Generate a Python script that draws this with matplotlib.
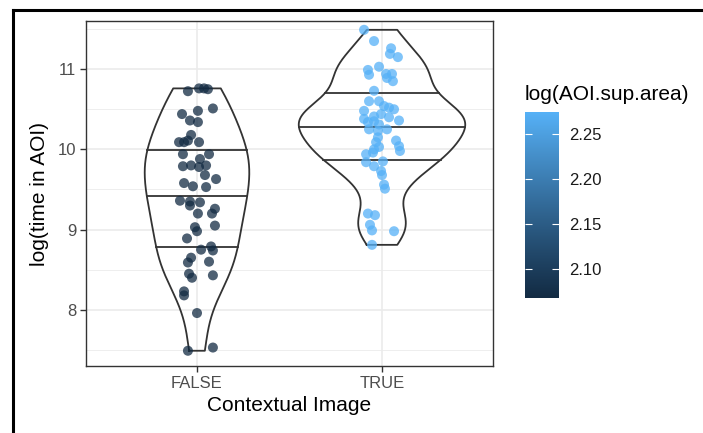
import numpy as np
import matplotlib
matplotlib.use("Agg")
import matplotlib.pyplot as plt
from matplotlib.colors import LinearSegmentedColormap
from matplotlib.lines import Line2D

# ---------------- data ----------------
categories = ["FALSE", "TRUE"]

false_time = [10.725, 10.76, 10.76, 10.75, 10.51, 10.44, 10.36, 10.48, 10.34, 10.09,
              10.09, 10.11, 10.18, 10.09, 9.94, 9.94, 9.88, 9.79, 9.80, 9.78,
              9.80, 9.68, 9.63, 9.58, 9.54, 9.53, 9.36, 9.35, 9.30, 9.34,
              9.20, 9.26, 9.20, 9.05, 9.03, 8.98, 8.89, 8.75, 8.79, 8.74,
              8.65, 8.60, 8.59, 8.45, 8.40, 8.43, 8.23, 8.18, 7.96, 7.49, 7.53]
false_jitter = [-0.049, 0.011, 0.038, 0.059, 0.086, -0.081, -0.038, 0.005, 0.005, -0.097,
                -0.070, -0.049, -0.032, 0.011, -0.076, 0.065, 0.016, -0.076, -0.032, 0.011,
                0.049, 0.043, 0.103, -0.070, -0.022, 0.049, -0.092, -0.038, -0.038, 0.016,
                0.005, 0.097, 0.081, 0.097, -0.011, 0.0, -0.054, 0.022, 0.076, 0.086,
                -0.032, 0.065, -0.049, -0.043, -0.027, 0.086, -0.070, -0.070, 0.0, -0.049, 0.086]

true_time = [11.49, 11.35, 11.26, 11.19, 11.15, 11.03, 10.99, 10.93, 10.94, 10.89,
             10.94, 10.85, 10.73, 10.60, 10.60, 10.54, 10.52, 10.50, 10.48, 10.38,
             10.41, 10.44, 10.40, 10.36, 10.34, 10.35, 10.31, 10.25, 10.23, 10.25,
             10.15, 10.09, 10.11, 10.04, 9.98, 10.03, 10.00, 9.94, 9.96, 9.84,
             9.79, 9.85, 9.73, 9.68, 9.56, 9.51, 9.20, 9.18, 9.06, 8.99, 8.98, 8.81]
true_jitter = [-0.097, -0.043, 0.049, 0.043, 0.086, -0.016, -0.076, -0.070, 0.022, 0.027,
               0.054, 0.059, -0.043, -0.070, -0.016, 0.011, 0.038, 0.065, -0.097, -0.097,
               -0.043, -0.005, 0.038, 0.092, -0.076, -0.043, -0.016, -0.070, -0.022, 0.027,
               -0.022, -0.032, 0.076, 0.092, 0.097, -0.016, -0.043, -0.086, -0.049, -0.086,
               -0.043, 0.005, -0.005, 0.0, 0.011, 0.016, -0.076, -0.038, -0.065, -0.054, 0.065, -0.054]

# colour variable log(AOI.sup.area): one value per group
area_values = [2.0676, 2.2746]
colorbar_ticks = [2.10, 2.15, 2.20, 2.25]
y_ticks = [8, 9, 10, 11]
quantile_levels = [0.25, 0.5, 0.75]

# ---------------- helpers ----------------
def _srgb_to_lab(hexcol):
    c = np.array([int(hexcol[i:i + 2], 16) / 255 for i in (1, 3, 5)])
    lin = np.where(c <= 0.04045, c / 12.92, ((c + 0.055) / 1.055) ** 2.4)
    M = np.array([[0.4124, 0.3576, 0.1805], [0.2126, 0.7152, 0.0722], [0.0193, 0.1192, 0.9505]])
    xyz = M @ lin / np.array([0.95047, 1.0, 1.08883])
    f = np.where(xyz > 0.008856, np.cbrt(xyz), 7.787 * xyz + 16 / 116)
    return np.array([116 * f[1] - 16, 500 * (f[0] - f[1]), 200 * (f[1] - f[2])])


def _lab_to_srgb(lab):
    L, a, b = lab
    fy = (L + 16) / 116
    fx = fy + a / 500
    fz = fy - b / 200
    f = np.array([fx, fy, fz])
    xyz = np.where(f ** 3 > 0.008856, f ** 3, (f - 16 / 116) / 7.787) * np.array([0.95047, 1.0, 1.08883])
    Minv = np.linalg.inv(np.array([[0.4124, 0.3576, 0.1805], [0.2126, 0.7152, 0.0722], [0.0193, 0.1192, 0.9505]]))
    lin = np.clip(Minv @ xyz, 0, 1)
    return np.where(lin <= 0.0031308, 12.92 * lin, 1.055 * lin ** (1 / 2.4) - 0.055)


lab_lo, lab_hi = _srgb_to_lab("#132B43"), _srgb_to_lab("#56B1F7")
cmap = LinearSegmentedColormap.from_list(
    "gg", [np.clip(_lab_to_srgb(lab_lo + t * (lab_hi - lab_lo)), 0, 1) for t in np.linspace(0, 1, 32)])


def nrd0(x):
    x = np.asarray(x)
    hi = np.std(x, ddof=1)
    iqr = np.subtract(*np.percentile(x, [75, 25]))
    lo = min(hi, iqr / 1.34)
    return 0.9 * lo * len(x) ** -0.2


def kde(x, n=512):
    x = np.asarray(x)
    bw = nrd0(x)
    ys = np.linspace(x.min(), x.max(), n)
    d = np.exp(-0.5 * ((ys[:, None] - x[None, :]) / bw) ** 2).sum(1) / (len(x) * bw * np.sqrt(2 * np.pi))
    return ys, d


# ---------------- figure ----------------
plt.rcParams["font.family"] = ["Liberation Sans", "DejaVu Sans"]
W, H = 703, 433
fig = plt.figure(figsize=(W / 100, H / 100), dpi=100)

L, R, T, B = 86, 493, 21, 366
ax = fig.add_axes([L / W, 1 - B / H, (R - L) / W, (B - T) / H])
ax.set_xlim(-0.6, 1.6)
ax.set_ylim(7.30, 11.60)

grid_c = "#EBEBEB"
for v in np.arange(7.5, 12.0, 1.0):
    ax.axhline(v, color=grid_c, lw=0.6, zorder=0)
for v in y_ticks:
    ax.axhline(v, color=grid_c, lw=1.2, zorder=0)
for i in range(len(categories)):
    ax.axvline(i, color=grid_c, lw=1.2, zorder=0)

groups = [false_time, true_time]
jitters = [false_jitter, true_jitter]
dens = [kde(g) for g in groups]
dmax = max(d.max() for _, d in dens)
line_c = "#333333"
for i, (ys, d) in enumerate(dens):
    w = d / dmax * 0.45
    xs = np.concatenate([i - w, (i + w)[::-1], [i - w[0]]])
    yy = np.concatenate([ys, ys[::-1], [ys[0]]])
    ax.plot(xs, yy, color=line_c, lw=1.3, zorder=2)
    cdf = np.cumsum(d) / d.sum()
    for q in quantile_levels:
        yq = np.interp(q, cdf, ys)
        wq = np.interp(yq, ys, w)
        ax.plot([i - wq, i + wq], [yq, yq], color=line_c, lw=1.3, zorder=2)

for i, (g, j) in enumerate(zip(groups, jitters)):
    xs = i + np.asarray(j)
    ax.scatter(xs, g, c=np.full(len(g), area_values[i]), cmap=cmap,
               vmin=min(area_values), vmax=max(area_values),
               s=52, alpha=0.75, linewidths=0, zorder=3)

ax.set_xticks(range(len(categories)))
ax.set_xticklabels(categories)
ax.set_yticks(y_ticks)
ax.set_yticklabels([str(v) for v in y_ticks])
ax.tick_params(axis="both", length=4, width=1, color="#333333", labelcolor="#4D4D4D",
               labelsize=12, pad=3)
for s in ax.spines.values():
    s.set_color("#333333")
    s.set_linewidth(1.0)
ax.set_xlabel("Contextual Image", fontsize=15, labelpad=4)
ax.set_ylabel("log(time in AOI)", fontsize=15, labelpad=6)

# colourbar
cx0, cx1, cy0, cy1 = 525, 559, 112, 298
cax = fig.add_axes([cx0 / W, 1 - cy1 / H, (cx1 - cx0) / W, (cy1 - cy0) / H])
grad = np.linspace(min(area_values), max(area_values), 256)[:, None]
cax.imshow(grad, aspect="auto", cmap=cmap, origin="lower",
           extent=[0, 1, min(area_values), max(area_values)])
cax.set_xlim(0, 1)
cax.set_ylim(min(area_values), max(area_values))
cax.set_xticks([])
cax.set_yticks(colorbar_ticks)
cax.set_yticklabels([f"{v:.2f}" for v in colorbar_ticks])
cax.yaxis.set_ticks_position("both")
cax.tick_params(axis="y", direction="in", length=5, width=0.8, color="white",
                labelsize=12, labelcolor="#1A1A1A", pad=7, left=True, right=True,
                labelleft=False, labelright=True)
for s in cax.spines.values():
    s.set_visible(False)
fig.text(525 / W, 1 - 95 / H, "log(AOI.sup.area)", fontsize=15, ha="left", va="center")

# outer frame lines
fig.add_artist(Line2D([13 / W, 1.0], [1 - 10 / H, 1 - 10 / H], color="black", lw=2.2,
                      transform=fig.transFigure))
fig.add_artist(Line2D([13 / W, 13 / W], [0.0, 1 - 10 / H], color="black", lw=2.2,
                      transform=fig.transFigure))

fig.savefig("out.png", dpi=100)
